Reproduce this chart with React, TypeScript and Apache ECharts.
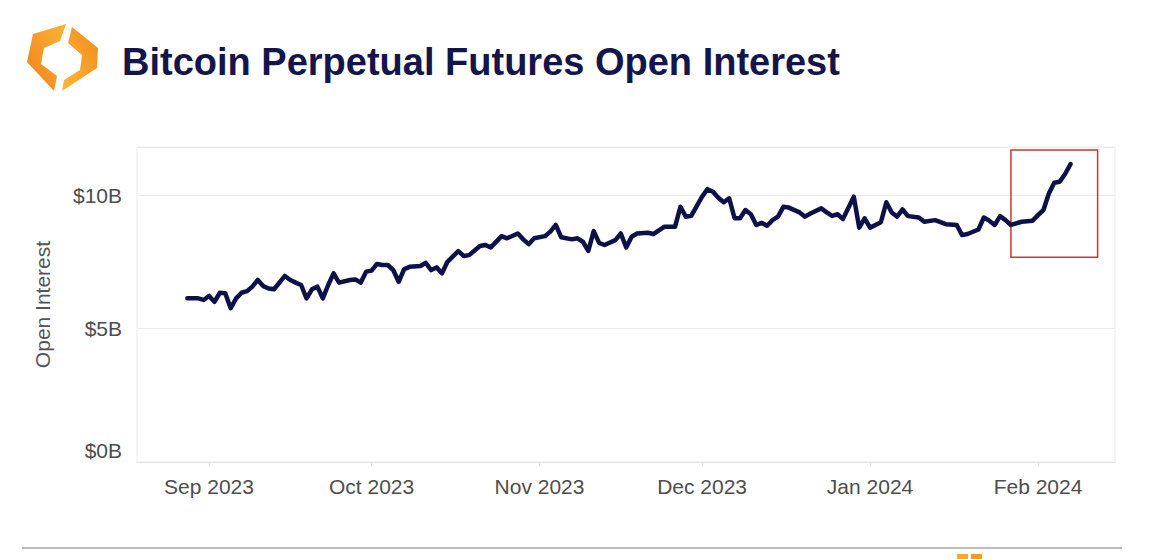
import React, { useEffect, useRef } from "react";
import * as echarts from "echarts";

// Daily open interest readings, USD billions
const dates = [
  "2023-08-28", "2023-08-29", "2023-08-30", "2023-08-31", "2023-09-01", "2023-09-02", "2023-09-03",
  "2023-09-04", "2023-09-05", "2023-09-06", "2023-09-07", "2023-09-08", "2023-09-09", "2023-09-10",
  "2023-09-11", "2023-09-12", "2023-09-13", "2023-09-15", "2023-09-16", "2023-09-17", "2023-09-18",
  "2023-09-19", "2023-09-20", "2023-09-21", "2023-09-22", "2023-09-23", "2023-09-24", "2023-09-25",
  "2023-09-27", "2023-09-28", "2023-09-29", "2023-09-30", "2023-10-01", "2023-10-02", "2023-10-03",
  "2023-10-04", "2023-10-05", "2023-10-06", "2023-10-07", "2023-10-08", "2023-10-10", "2023-10-11",
  "2023-10-12", "2023-10-13", "2023-10-14", "2023-10-15", "2023-10-17", "2023-10-18", "2023-10-19",
  "2023-10-21", "2023-10-22", "2023-10-23", "2023-10-25", "2023-10-26", "2023-10-28", "2023-10-29",
  "2023-10-30", "2023-10-31", "2023-11-02", "2023-11-03", "2023-11-04", "2023-11-05", "2023-11-07",
  "2023-11-08", "2023-11-09", "2023-11-10", "2023-11-11", "2023-11-12", "2023-11-13", "2023-11-15",
  "2023-11-16", "2023-11-17", "2023-11-18", "2023-11-19", "2023-11-21", "2023-11-22", "2023-11-24",
  "2023-11-26", "2023-11-27", "2023-11-28", "2023-11-29", "2023-12-01", "2023-12-02", "2023-12-03",
  "2023-12-04", "2023-12-05", "2023-12-06", "2023-12-07", "2023-12-08", "2023-12-09", "2023-12-10",
  "2023-12-11", "2023-12-12", "2023-12-13", "2023-12-14", "2023-12-15", "2023-12-16", "2023-12-17",
  "2023-12-19", "2023-12-20", "2023-12-21", "2023-12-23", "2023-12-24", "2023-12-25", "2023-12-26",
  "2023-12-27", "2023-12-29", "2023-12-30", "2023-12-31", "2024-01-01", "2024-01-02", "2024-01-03",
  "2024-01-04", "2024-01-05", "2024-01-06", "2024-01-07", "2024-01-08", "2024-01-10", "2024-01-11",
  "2024-01-13", "2024-01-15", "2024-01-17", "2024-01-18", "2024-01-19", "2024-01-21", "2024-01-22",
  "2024-01-23", "2024-01-24", "2024-01-25", "2024-01-26", "2024-01-27", "2024-01-29", "2024-01-31",
  "2024-02-01", "2024-02-02", "2024-02-03", "2024-02-04", "2024-02-05", "2024-02-06", "2024-02-07",
];

const openInterest = [
  6.13, 6.13, 6.13, 6.07, 6.22, 6.0, 6.34,
  6.32, 5.76, 6.13, 6.34, 6.4, 6.57, 6.82,
  6.59, 6.5, 6.47, 6.97, 6.82, 6.72, 6.63,
  6.13, 6.47, 6.57, 6.13, 6.63, 7.07, 6.72,
  6.82, 6.84, 6.72, 7.13, 7.17, 7.42, 7.38,
  7.38, 7.19, 6.75, 7.22, 7.31, 7.34, 7.46,
  7.19, 7.29, 7.07, 7.5, 7.9, 7.72, 7.75,
  8.09, 8.13, 8.04, 8.46, 8.38, 8.56, 8.34,
  8.16, 8.38, 8.46, 8.63, 8.88, 8.42, 8.34,
  8.38, 8.25, 7.91, 8.65, 8.21, 8.13, 8.31,
  8.56, 8.04, 8.44, 8.56, 8.59, 8.54, 8.81,
  8.81, 9.56, 9.19, 9.22, 9.94, 10.22, 10.12,
  9.9, 9.73, 9.88, 9.13, 9.13, 9.44, 9.28,
  8.88, 8.96, 8.85, 9.06, 9.19, 9.56, 9.53,
  9.35, 9.19, 9.31, 9.5, 9.35, 9.22, 9.28,
  9.1, 9.94, 8.78, 9.13, 8.78, 8.88, 8.98,
  9.73, 9.35, 9.19, 9.46, 9.21, 9.16, 9.0,
  9.06, 8.91, 8.88, 8.5, 8.54, 8.71, 9.16,
  9.04, 8.88, 9.21, 9.06, 8.88, 9.0, 9.04,
  9.25, 9.44, 10.06, 10.46, 10.5, 10.79, 11.16,
];

const yTicks = [0, 5, 10];
const xRange = ["2023-08-18 17:00", "2024-02-15 05:00"];
const yRange = [0, 11.8];
const highlightX = ["2024-01-27", "2024-02-12"];
const highlightY = [7.67, 11.69];
const monthNames = ["Jan", "Feb", "Mar", "Apr", "May", "Jun", "Jul", "Aug", "Sep", "Oct", "Nov", "Dec"];

const FONT = "'Liberation Sans', Arial, Helvetica, sans-serif";

export default function App() {
  const ref = useRef<HTMLDivElement>(null);

  useEffect(() => {
    if (!ref.current) return;
    const chart = echarts.init(ref.current, null, { renderer: "svg" });

    const leftGrad = new echarts.graphic.LinearGradient(0, 1, 1, 0, [
      { offset: 0, color: "#f07f1b" },
      { offset: 1, color: "#fbb535" },
    ]);
    const rightGrad = new echarts.graphic.LinearGradient(1, 0, 0, 1, [
      { offset: 0, color: "#f28a1e" },
      { offset: 1, color: "#fbb838" },
    ]);

    chart.setOption({
      animation: false,
      backgroundColor: "#ffffff",
      textStyle: { fontFamily: FONT },
      title: {
        text: "Bitcoin Perpetual Futures Open Interest",
        left: 117,
        top: 38,
        textStyle: {
          fontFamily: FONT,
          fontSize: 38,
          fontWeight: "bold",
          color: "#13154b",
        },
      },
      grid: {
        left: 137,
        right: 42,
        top: 147,
        bottom: 97,
        show: true,
        borderColor: "#ebebeb",
        borderWidth: 1,
        containLabel: false,
      },
      xAxis: {
        type: "time",
        min: xRange[0],
        max: xRange[1],
        splitNumber: 6,
        axisLine: { show: true, lineStyle: { color: "#e3e3e3", width: 1 } },
        axisTick: { show: true, length: 4, lineStyle: { color: "#e3e3e3" } },
        splitLine: { show: false },
        axisLabel: {
          fontFamily: FONT,
          fontSize: 21,
          color: "#4d4d4d",
          margin: 14,
          showMinLabel: false,
          showMaxLabel: false,
          hideOverlap: false,
          formatter: (val: number) => {
            const d = new Date(val);
            return `${monthNames[d.getMonth()]} ${d.getFullYear()}`;
          },
        },
      },
      yAxis: {
        type: "value",
        min: yRange[0],
        max: yRange[1],
        interval: 5,
        name: "Open Interest",
        nameLocation: "middle",
        nameGap: 84,
        nameTextStyle: { fontFamily: FONT, fontSize: 21, color: "#555555" },
        axisLine: { show: false },
        axisTick: { show: false },
        splitLine: { show: true, lineStyle: { color: "#ececec", width: 1 } },
        axisLabel: {
          fontFamily: FONT,
          fontSize: 21,
          color: "#4d4d4d",
          margin: 15,
          showMaxLabel: false,
          formatter: (v: number) => {
            if (!yTicks.includes(v)) return "";
            return v === yTicks[0] ? `{low|$${v}B}` : `$${v}B`;
          },
          rich: {
            low: {
              fontFamily: FONT,
              fontSize: 21,
              color: "#4d4d4d",
              padding: [0, 0, 24, 0],
            },
          },
        },
      },
      series: [
        {
          type: "line",
          data: dates.map((d, i) => [d, openInterest[i]]),
          showSymbol: false,
          symbol: "none",
          smooth: false,
          lineStyle: { color: "#0e1148", width: 4.5, join: "round", cap: "round" },
          itemStyle: { color: "#0e1148" },
          markArea: {
            silent: true,
            itemStyle: {
              color: "rgba(0,0,0,0)",
              borderColor: "#d2332f",
              borderWidth: 1.5,
            },
            data: [
              [
                { xAxis: highlightX[0], yAxis: highlightY[0] },
                { xAxis: highlightX[1], yAxis: highlightY[1] },
              ],
            ],
          },
        },
      ],
      graphic: [
        {
          type: "polygon",
          shape: {
            points: [
              [66, 24], [33, 34], [27, 62], [54, 91], [57, 76], [41, 64], [44, 48], [60, 41],
            ],
          },
          style: { fill: leftGrad },
        },
        {
          type: "polygon",
          shape: {
            points: [
              [72, 27], [98, 48], [97, 68], [62, 91], [64, 80], [80, 70], [82, 55], [68, 43],
            ],
          },
          style: { fill: rightGrad },
        },
        {
          type: "line",
          shape: { x1: 22, y1: 548, x2: 1122, y2: 548 },
          style: { stroke: "#bdbdbd", lineWidth: 2 },
        },
        {
          type: "rect",
          shape: { x: 957, y: 554, width: 11, height: 6 },
          style: { fill: "#f7a62c" },
        },
        {
          type: "rect",
          shape: { x: 971, y: 554, width: 11, height: 6 },
          style: { fill: "#f59a25" },
        },
      ],
    });

    return () => chart.dispose();
  }, []);

  return (
    <div
      ref={ref}
      style={{ position: "absolute", left: 0, top: 0, width: 1157, height: 559, background: "#fff" }}
    />
  );
}
